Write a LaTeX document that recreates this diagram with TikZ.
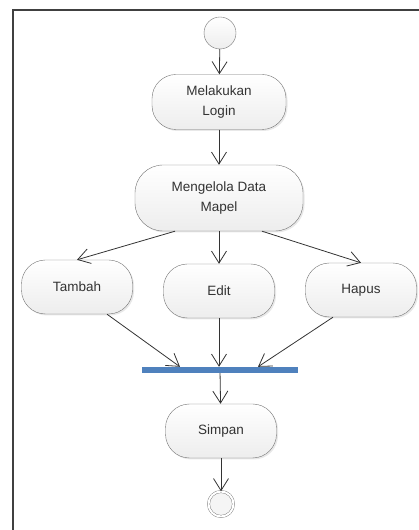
\documentclass[tikz,border=0pt]{standalone}
\usepackage{fontspec}
\setmainfont{Liberation Sans}
\usetikzlibrary{arrows.meta,shadows}
\definecolor{garisbar}{RGB}{79,129,189}
\tikzset{
  >={Straight Barb[length=12pt,width=15pt]},
  aktivitas/.style={rectangle, rounded corners=24pt, draw=gray!90!black, thin,
                    top color=white, bottom color=gray!14, minimum width=111pt,
                    minimum height=54pt, align=center, text=black!80,
                    font=\fontsize{13.5}{19.5}\selectfont,
                    drop shadow={opacity=0.18, shadow xshift=1.5pt, shadow yshift=-1.5pt}},
  awal/.style={circle, draw=gray!90!black, top color=white, bottom color=gray!14,
               minimum size=32pt, inner sep=0pt},
  akhir/.style={circle, draw=gray!90!black, double=white, double distance=2pt,
                fill=gray!8, minimum size=25pt, inner sep=0pt},
  alur/.style={draw=black!80, ->, line width=0.8pt},
  bingkai/.style={draw=black!75, line width=1.5pt}
}
\begin{document}
\begin{tikzpicture}[x=1pt,y=1pt]
\useasboundingbox (0,0) rectangle (419,530);
\draw[bingkai] (13,0) -- (13,520) -- (419,520);
\node[awal] (mulai) at (220,497) {};
\node[aktivitas, minimum width=134pt, minimum height=55pt] (login) at (219,428) {Melakukan\\Login};
\node[aktivitas, minimum width=168pt, minimum height=66pt, rounded corners=28pt] (kelola) at (219,332) {Mengelola Data\\Mapel};
\node[aktivitas] (tambah) at (77,243) {Tambah};
\node[aktivitas] (edit) at (219,239) {Edit};
\node[aktivitas] (hapus) at (361,240) {Hapus};
\node[fill=garisbar, minimum width=156pt, minimum height=6pt, inner sep=0pt] (bar) at (220,160) {};
\node[aktivitas] (simpan) at (221,99) {Simpan};
\node[akhir] (selesai) at (221,26) {};
\draw[alur] (mulai) -- (login);
\draw[alur] (login) -- (kelola);
\draw[alur] ([xshift=-44pt]kelola.south) -- (tambah.north);
\draw[alur] (kelola) -- (edit);
\draw[alur] ([xshift=43pt]kelola.south) -- (hapus.north);
\draw[alur] ([xshift=30pt]tambah.south) -- ([xshift=-40pt]bar.north);
\draw[alur] (edit) -- (edit |- bar.north);
\draw[alur] ([xshift=-28pt]hapus.south) -- ([xshift=38pt]bar.north);
\draw[alur] (bar) -- (simpan);
\draw[alur] (simpan) -- (selesai);
\end{tikzpicture}
\end{document}
